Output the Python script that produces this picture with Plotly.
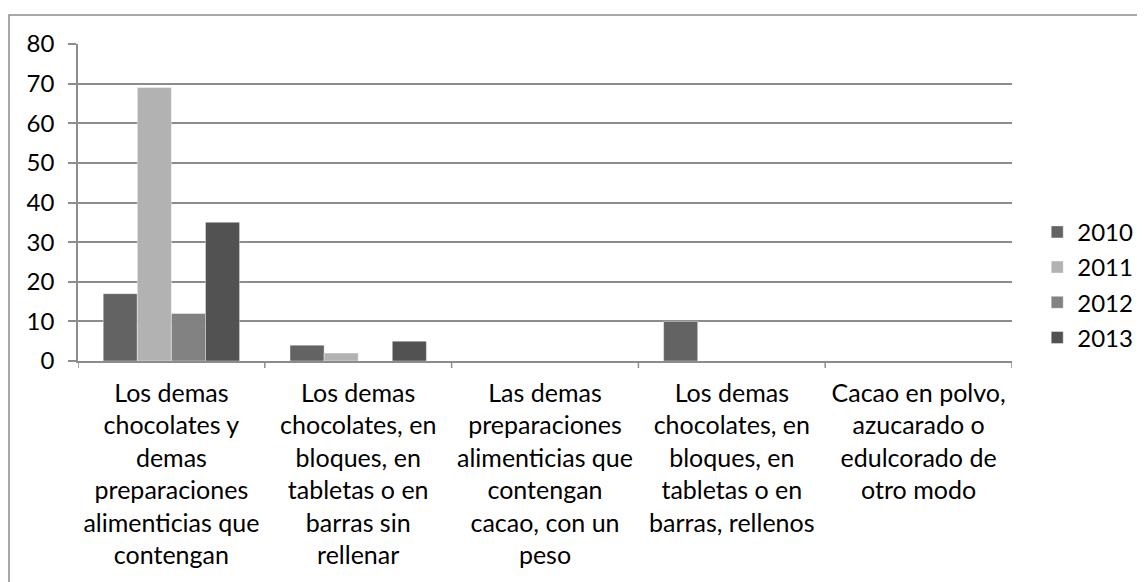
import plotly.graph_objects as go

categories = [
    "Los demas<br>chocolates y<br>demas<br>preparaciones<br>alimenticias que<br>contengan",
    "Los demas<br>chocolates, en<br>bloques, en<br>tabletas o en<br>barras sin<br>rellenar",
    "Las demas<br>preparaciones<br>alimenticias que<br>contengan<br>cacao, con un<br>peso",
    "Los demas<br>chocolates, en<br>bloques, en<br>tabletas o en<br>barras, rellenos",
    "Cacao en polvo,<br>azucarado o<br>edulcorado de<br>otro modo",
]
years = ["2010", "2011", "2012", "2013"]
values_2010 = [17, 4, 0, 10, 0]
values_2011 = [69, 2, 0, 0, 0]
values_2012 = [12, 0, 0, 0, 0]
values_2013 = [35, 5, 0, 0, 0]
series = [values_2010, values_2011, values_2012, values_2013]
colors = ["#636363", "#b2b2b2", "#828282", "#525252"]
y_ticks = [0, 10, 20, 30, 40, 50, 60, 70, 80]

FONT = "Lato, Calibri, Carlito, sans-serif"
GRID = "#8c8c8c"
FS = 24

fig = go.Figure()
for yr, vals, col in zip(years, series, colors):
    fig.add_trace(go.Bar(
        x=list(range(len(categories))), y=vals, name=yr,
        marker=dict(color=col, line=dict(color="rgba(255,255,255,0.5)", width=0.8)),
        legendgroup=yr,
    ))

# page body has an 8px margin, so the figure is offset by 8px
fig.update_layout(
    width=1137, height=574,
    margin=dict(l=70, r=133, t=36, b=221, autoexpand=False),
    paper_bgcolor="white", plot_bgcolor="white",
    barmode="group", bargap=0.27, bargroupgap=0,
    font=dict(family=FONT, size=FS, color="#000000"),
    showlegend=True,
    legend=dict(
        x=1.027, xanchor="left", y=0.477, yanchor="top",
        font=dict(family=FONT, size=FS, color="#000000"),
        tracegroupgap=1, itemwidth=30, bgcolor="rgba(0,0,0,0)",
    ),
    xaxis=dict(
        tickmode="array", tickvals=list(range(len(categories))), ticktext=categories,
        range=[-0.5, len(categories) - 0.5],
        showgrid=False, showline=True, linecolor=GRID, linewidth=1.5,
        ticks="", ticklabelstandoff=9,
        tickangle=0, tickfont=dict(family=FONT, size=25),
        zeroline=False,
    ),
    yaxis=dict(
        range=[0, 80], tickvals=y_ticks, ticktext=[str(v) for v in y_ticks],
        showgrid=True, gridcolor=GRID, gridwidth=1.5,
        showline=True, linecolor=GRID, linewidth=1.5,
        ticks="outside", ticklen=8, tickcolor=GRID, tickwidth=1.5,
        ticklabelstandoff=9,
        tickfont=dict(family=FONT, size=FS), zeroline=False,
    ),
)

# category boundary ticks on x axis
for b in [i - 0.5 for i in range(len(categories) + 1)]:
    fig.add_shape(type="line", xref="x", yref="paper", x0=b, x1=b, y0=0, y1=-0.022,
                  line=dict(color=GRID, width=1.5))

# outer chart border
fig.add_shape(type="rect", xref="paper", yref="paper",
              x0=(9 - 78) / 934, x1=1.2, y0=-0.8, y1=1 + (44 - 15) / 317,
              line=dict(color="#8c8c8c", width=1.5), fillcolor="rgba(0,0,0,0)", layer="below")

fig.write_html("out.html")
